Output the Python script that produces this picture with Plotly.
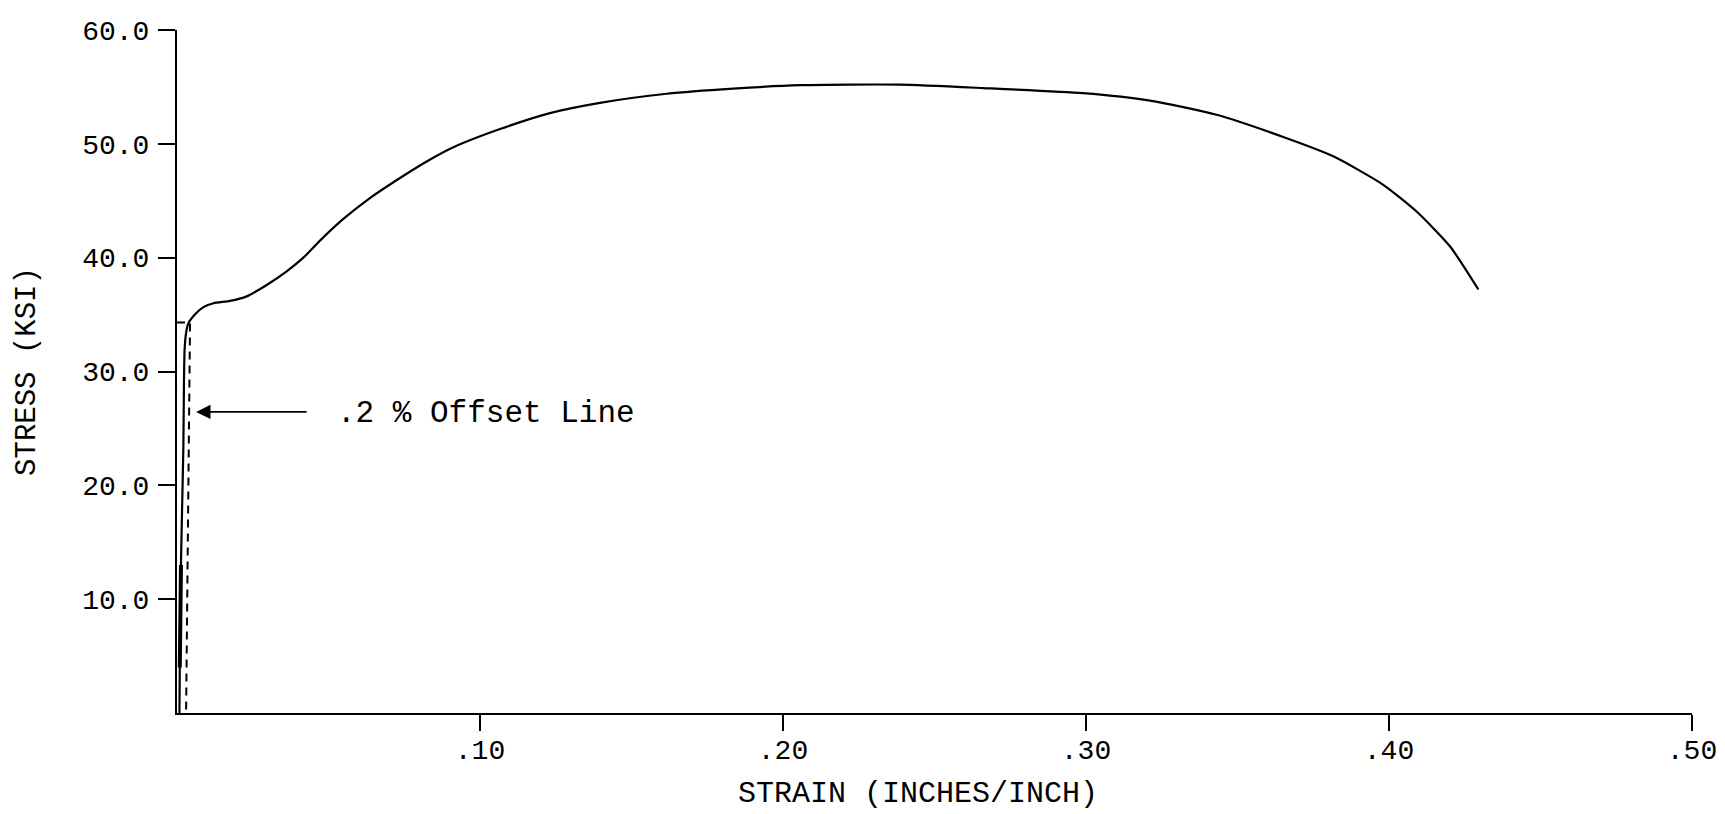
import plotly.graph_objects as go

# stress-strain curve
strain = [0.0008, 0.0011, 0.0016, 0.0021, 0.0023, 0.0025, 0.0030, 0.0037,
          0.0059, 0.0087, 0.0120, 0.0175, 0.0230, 0.0296, 0.0362, 0.0417,
          0.0472, 0.0549, 0.0640, 0.0736, 0.0824, 0.0912, 0.1066, 0.1231,
          0.1396, 0.1616, 0.1836, 0.2056, 0.2386, 0.2660, 0.2990, 0.3211,
          0.3431, 0.3651, 0.3816, 0.3981, 0.4091, 0.4201, 0.4295]
stress = [0.0, 9.9, 17.0, 23.4, 29.0, 31.9, 33.4, 34.2,
          35.0, 35.65, 36.0, 36.2, 36.6, 37.6, 38.8, 40.0,
          41.5, 43.4, 45.3, 47.0, 48.45, 49.7, 51.3, 52.7,
          53.6, 54.4, 54.85, 55.15, 55.2, 54.9, 54.45, 53.8,
          52.55, 50.6, 48.9, 46.4, 44.05, 41.0, 37.2]

# heavier stroke at the bottom of the elastic line
bold_strain = [0.00092, 0.00132]
bold_stress = [4.0, 13.0]

# .2 % offset construction
offset_strain = [0.0, 0.0043, 0.0030]
offset_stress = [34.3, 34.3, 0.0]

x_ticks = [0.1, 0.2, 0.3, 0.4, 0.5]
x_labels = [".10", ".20", ".30", ".40", ".50"]
y_ticks = [10, 20, 30, 40, 50, 60]
y_labels = ["10.0", "20.0", "30.0", "40.0", "50.0", "60.0"]

FONT = "Liberation Mono"

fig = go.Figure()
fig.add_trace(go.Scatter(x=offset_strain, y=offset_stress, mode="lines",
                         line=dict(color="black", width=2, dash="8px,6px")))
fig.add_trace(go.Scatter(x=strain, y=stress, mode="lines",
                         line=dict(color="black", width=2.2, shape="spline", smoothing=0.6)))
fig.add_trace(go.Scatter(x=bold_strain, y=bold_stress, mode="lines",
                         line=dict(color="black", width=4)))

# arrow + label
fig.add_annotation(x=0.0063, y=26.45, ax=112, ay=0, xref="x", yref="y",
                   text="", showarrow=True, arrowhead=2, arrowsize=1.8,
                   arrowwidth=1.6, arrowcolor="black")
fig.add_annotation(x=0.0521, y=26.3, xref="x", yref="y", text=".2 % Offset Line",
                   showarrow=False, xanchor="left", yanchor="middle",
                   font=dict(family=FONT, size=31, color="black"))

# x axis title
fig.add_annotation(x=0.2446, y=0, xref="x", yref="paper", yshift=-81,
                   text="STRAIN (INCHES/INCH)", showarrow=False,
                   xanchor="center", yanchor="middle",
                   font=dict(family=FONT, size=30, color="black"))

fig.update_xaxes(
    range=[0, 0.5], tickvals=x_ticks, ticktext=x_labels,
    ticks="outside", ticklen=16, tickwidth=2, tickcolor="black",
    ticklabelstandoff=-6,
    tickfont=dict(family=FONT, size=28, color="black"),
    showline=True, linecolor="black", linewidth=2,
    showgrid=False, zeroline=False, automargin=False,
)
fig.update_yaxes(
    range=[0, 60], tickvals=y_ticks, ticktext=y_labels,
    ticks="outside", ticklen=17, tickwidth=2, tickcolor="black",
    ticklabelstandoff=3,
    tickfont=dict(family=FONT, size=28, color="black"),
    showline=True, linecolor="black", linewidth=2,
    showgrid=False, zeroline=False, automargin=False,
    title=dict(text="STRESS (KSI)", standoff=38,
               font=dict(family=FONT, size=29, color="black")),
)
# page body adds 8px, so the figure is 8px smaller than the window
fig.update_layout(
    width=1717, height=806,
    margin=dict(l=169, r=33, t=22, b=101),
    plot_bgcolor="white", paper_bgcolor="white",
    showlegend=False,
)
fig.write_html("out.html")
